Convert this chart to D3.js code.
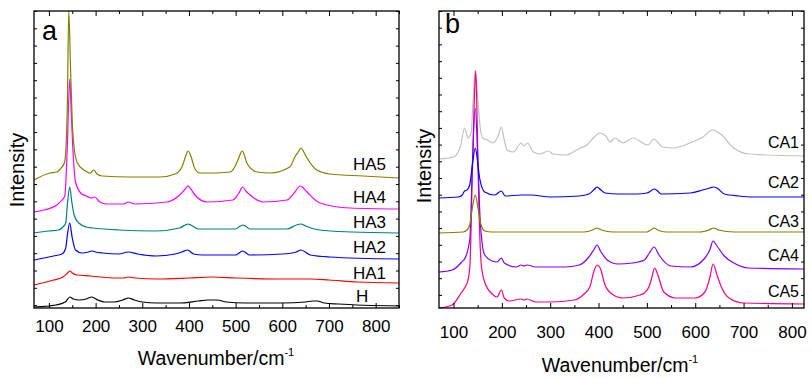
<!DOCTYPE html>
<html>
<head>
<meta charset="utf-8">
<script src="https://cdn.jsdelivr.net/npm/d3@7"></script>
<style>
  body { margin: 0; background: #fff; }
  text { font-family: Arial, "Liberation Sans", sans-serif; fill: #000; }
</style>
</head>
<body>
<svg id="chart" width="812" height="378"></svg>
<script>
// ---- data: [wavenumber, intensity (a.u.)] ----
const H   = [[68,1],[115,3],[135,6],[145,11],[152,9],[165,8],[180,9],[192,11],[205,8],[220,6],[240,6],[258,8],[270,10],[283,8],[300,6],[330,5],[380,5],[420,7],[440,8],[460,8],[480,6],[520,5],[600,5],[650,6],[665,7],[675,7],[690,5],[720,4],[850,2]];
const HA1 = [[68,23],[110,28],[130,31],[138,34],[145,37],[150,35],[160,33],[190,32],[210,31],[240,30],[260,30],[270,31],[285,30],[330,29],[400,30],[450,31],[500,30],[600,29],[660,29],[700,28],[760,26],[850,25]];
const HA2 = [[68,48],[110,52],[128,54],[136,60],[139.5,73],[144.5,85],[150,70],[157,58],[171,55],[185,56],[192,57],[200,56],[215,55],[250,54],[270,56],[290,54],[330,52],[370,54],[385,56],[397,58],[410,54],[430,53],[500,53],[515,57],[530,53],[600,54],[630,56],[640,58],[660,53],[700,51],[850,49]];
const HA3 = [[68,75],[100,77],[120,78],[130,81],[136,85],[139.5,103],[144.5,121],[149,106],[154,93],[164,85],[180,81],[195,80],[250,78],[330,77],[380,80],[392,83],[398,84],[404,83],[420,79],[500,79],[510,82],[515,83],[521,82],[530,79],[610,79],[630,83],[640,84],[650,82],[680,78],[750,76],[850,75]];
const HA4 = [[68,96],[89,98],[117,103],[128,108],[134,112],[139.5,163],[144.5,229],[148,193],[152,153],[157,126],[168,115],[180,112],[192,110],[198,111],[209,106],[224,104],[260,104],[270,106],[284,104],[353,106],[380,113],[392,119],[398,122],[404,119],[413,113],[439,106],[494,108],[507,115],[515,121],[522,117],[531,113],[559,106],[610,108],[627,116],[638,122],[645,120],[653,116],[681,105],[745,100],[850,99]];
const HA5 = [[68,128],[102,135],[117,136],[126,140],[133,145],[136.5,160],[139.5,205],[142.5,297],[146.5,236],[150,186],[154,160],[161,145],[175,138],[188,135],[196,138],[203,134],[214,132],[274,131],[338,131],[370,134],[385,141],[393,152],[398,157],[404,152],[413,139],[424,135],[451,135],[488,136],[505,148],[509,153],[514,157],[520,151],[524,145],[546,136],[574,135],[616,141],[628,152],[634,156],[640,160],[646,156],[653,150],[674,138],[702,134],[773,132],[850,130]];

const CA1 = [[70,149],[100,151],[114,161],[123,180],[130,170],[136.8,176],[140.3,206],[145,238],[150.7,206],[155.4,180],[160,170],[170,168],[182,165],[193,173],[199,181],[205,168],[211,158],[224,156],[240,165],[246,162],[253,165],[265,156],[279,154],[296,157],[306,154],[331,153],[362,160],[376,163],[391,171],[403,175],[415,172],[424,166],[434,170],[451,165],[471,170],[502,163],[514,169],[533,161],[554,160],[589,165],[616,171],[636,178],[655,173],[677,161],[712,154],[825,152]];
const CA2 = [[70,110],[110,111],[118,113],[123,117],[128,118],[133.5,123],[139,143],[145,160],[150.7,143],[154,130],[164.5,116],[185,113],[199,117],[207,112],[240,113],[260,113],[300,111],[360,112],[380,114],[390,118],[397,121],[405,118],[414,115],[440,114],[480,114],[500,115],[508,117],[515,119],[522,117],[530,114],[590,115],[615,118],[630,120],[637,121],[645,120],[660,114],[690,112],[720,111],[825,111]];
const CA3 = [[70,75],[120,76],[128,78],[133.5,83],[139,100],[145,113],[150.7,100],[155.4,86],[164.5,77],[180,76],[250,76],[370,76],[388,78],[397,80],[406,78],[430,76],[500,76],[508,78],[515,80],[522,78],[540,76],[610,76],[628,78],[638,80],[648,78],[680,76],[825,76]];
const CA4 = [[70,36],[97,38],[117,46],[125,51],[134,70],[139,143],[145,200],[150.7,143],[155.4,86],[164.5,53],[180,47],[190,46],[199,50],[205,45],[230,41],[240,43],[246,42],[252,43],[270,41],[330,41],[360,43],[380,51],[390,58],[397,63],[404,57],[418,48],[440,44],[470,45],[495,48],[505,55],[515,61],[525,53],[550,42],[590,41],[620,50],[630,58],[637,67],[645,62],[660,52],[680,45],[710,40],[825,39]];
const CA5 = [[70,0],[97,3],[117,16],[123,20],[130,28],[134,43],[139,136],[144,220],[146,237],[149,186],[152.5,103],[157.5,43],[164.5,26],[180,14],[190,11],[199,18],[205,10],[215,7],[240,9],[246,8],[252,9],[270,6],[300,6],[350,8],[370,14],[382,21],[390,36],[397,43],[405,38],[412,25],[425,15],[450,10],[486,13],[495,15],[505,22],[510,30],[516,40],[522,34],[535,16],[560,10],[600,10],[620,16],[630,30],[637,44],[645,33],[655,20],[670,10],[700,5],[825,4]];

const namesA = ["H", "HA1", "HA2", "HA3", "HA4", "HA5"];
const seriesA = [H, HA1, HA2, HA3, HA4, HA5];
const colorsA = ["#000000", "#ff0000", "#0000ff", "#008080", "#ff00ff", "#808000"];

// panel b is drawn back to front like the original
const namesB = ["CA1", "CA5", "CA4", "CA3", "CA2"];
const seriesB = [CA1, CA5, CA4, CA3, CA2];
const colorsB = ["#c0c0c0", "#ff0080", "#8000ff", "#808000", "#0000ff"];

const majorTicks = [100, 200, 300, 400, 500, 600, 700, 800];
const minorTicks = [150, 250, 350, 450, 550, 650, 750, 850];

const svg = d3.select("#chart");

function drawPanel(p) {
  const x = d3.scaleLinear().domain(p.xDomain).range([p.left, p.right]);
  const y = d3.scaleLinear().domain([0, 297]).range([308, 11]);
  const g = svg.append("g");

  // curves
  const line = d3.line()
    .x(d => x(d[0]))
    .y(d => y(d[1]))
    .curve(d3.curveMonotoneX);

  p.series.forEach((s, i) => {
    g.append("path")
      .datum(s)
      .attr("fill", "none")
      .attr("stroke", p.colors[i])
      .attr("stroke-width", 1.2)
      .attr("d", line);
  });

  // x axes (ticks pointing inward, bottom + top)
  const minor = minorTicks.filter(v => v <= p.xDomain[1]);
  g.append("g")
    .attr("transform", `translate(0,${y.range()[0]})`)
    .call(d3.axisBottom(x).tickValues(majorTicks).tickSize(-5).tickPadding(p.labelPad))
    .call(a => a.selectAll("text").attr("font-size", 17).attr("fill", "#000"));
  g.append("g")
    .attr("transform", `translate(0,${y.range()[0]})`)
    .call(d3.axisBottom(x).tickValues(minor).tickSize(-3).tickFormat(""));
  g.append("g")
    .attr("transform", `translate(0,${y.range()[1]})`)
    .call(d3.axisTop(x).tickValues(majorTicks).tickSize(-5).tickFormat(""));
  g.append("g")
    .attr("transform", `translate(0,${y.range()[1]})`)
    .call(d3.axisTop(x).tickValues(minor).tickSize(-3).tickFormat(""));

  // y ticks, no labels
  const yTicks = d3.range(0, 18).map(k => y.invert(11 + k * p.yStep)).filter(v => v > 1);
  g.append("g")
    .attr("transform", `translate(${p.left},0)`)
    .call(d3.axisLeft(y).tickValues(yTicks).tickSize(-3).tickFormat(""));
  g.append("g")
    .attr("transform", `translate(${p.right},0)`)
    .call(d3.axisRight(y).tickValues(yTicks).tickSize(-3).tickFormat(""));

  g.selectAll(".domain").remove();
  g.selectAll(".tick line").attr("stroke", "#000");

  // frame
  g.append("rect")
    .attr("x", p.left)
    .attr("y", 11)
    .attr("width", p.right - p.left)
    .attr("height", 297)
    .attr("fill", "none")
    .attr("stroke", "#000")
    .attr("stroke-width", 1.3);

  // series labels
  p.names.forEach((n, i) => {
    g.append("text")
      .attr("x", p.labelX[i])
      .attr("y", p.labelY[i])
      .attr("font-size", p.labelSize)
      .attr("text-anchor", p.labelAnchor)
      .text(n);
  });

  // panel letter
  g.append("text")
    .attr("x", p.letterX)
    .attr("y", p.letterY)
    .attr("font-size", 27)
    .text(p.letter);

  // axis titles
  const t = g.append("text")
    .attr("x", p.titleX)
    .attr("y", p.titleY)
    .attr("font-size", 19.5)
    .attr("text-anchor", "middle");
  t.append("tspan").text("Wavenumber/cm");
  t.append("tspan").attr("font-size", 11).attr("dy", -9).text("-1");

  g.append("text")
    .attr("transform", `translate(${p.yTitleX},${p.yTitleY}) rotate(-90)`)
    .attr("font-size", 20)
    .attr("text-anchor", "middle")
    .text("Intensity");
}

drawPanel({
  left: 34, right: 399, xDomain: [68, 850],
  series: seriesA, colors: colorsA, names: namesA,
  labelX: [356, 353, 353, 353, 353, 353],
  labelY: [301.5, 279, 253, 228, 203, 170],
  labelAnchor: "start", labelSize: 17,
  labelPad: 12, yStep: 17.3,
  letter: "a", letterX: 42, letterY: 40,
  titleX: 216, titleY: 365,
  yTitleX: 24, yTitleY: 170
});

drawPanel({
  left: 439, right: 804, xDomain: [70, 825],
  series: seriesB, colors: colorsB, names: namesB,
  labelX: [799, 799, 799, 799, 799],
  labelY: [148, 297, 261, 227, 188],
  labelAnchor: "end", labelSize: 16,
  labelPad: 18, yStep: 16.7,
  letter: "b", letterX: 445, letterY: 33,
  titleX: 620, titleY: 372,
  yTitleX: 431, yTitleY: 166
});
</script>
</body>
</html>
